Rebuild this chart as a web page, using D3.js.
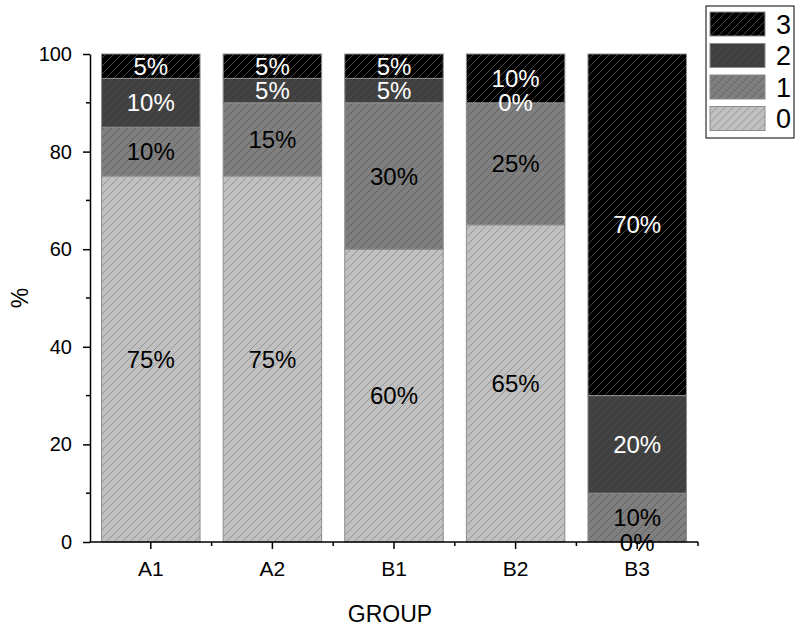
<!DOCTYPE html>
<html>
<head>
<meta charset="utf-8">
<script src="https://cdn.jsdelivr.net/npm/d3@7"></script>
<style>
  body { margin: 0; background: #fff; }
  svg { font-family: "Liberation Sans", Arial, sans-serif; }
</style>
</head>
<body>
<div id="chart"></div>
<script>
// data (percent per group)
const groups = ['A1', 'A2', 'B1', 'B2', 'B3'];
const levels = ['0', '1', '2', '3'];
const level0 = [75, 75, 60, 65, 0];
const level1 = [10, 15, 30, 25, 10];
const level2 = [10, 5, 5, 0, 20];
const level3 = [5, 5, 5, 10, 70];
const yTicks = [0, 20, 40, 60, 80, 100];

const fills = {'0': '#c0c0c0', '1': '#7f7f7f', '2': '#404040', '3': '#000000'};
const hatch = {'0': '#8a8a8a', '1': '#5a5a5a', '2': '#4c4c4c', '3': '#555555'};
const textCol = {'0': '#000', '1': '#000', '2': '#fff', '3': '#fff'};

const rows = groups.map((g, i) => ({
    group: g, '0': level0[i], '1': level1[i], '2': level2[i], '3': level3[i]
}));

const width = 798, height = 635;
const margin = {top: 54, right: 100, bottom: 93, left: 90};
const font = '"Liberation Sans", Arial, sans-serif';

const svg = d3.select('#chart').append('svg')
    .attr('width', width)
    .attr('height', height);

// hatch patterns
const defs = svg.append('defs');
levels.forEach(k => {
    const p = defs.append('pattern')
        .attr('id', 'hatch' + k)
        .attr('patternUnits', 'userSpaceOnUse')
        .attr('width', 8).attr('height', 8);
    p.append('rect').attr('width', 8).attr('height', 8).attr('fill', fills[k]);
    p.append('path')
        .attr('d', 'M-2,2 L2,-2 M0,8 L8,0 M6,10 L10,6')
        .attr('stroke', hatch[k])
        .attr('stroke-width', 0.8);
});

const x = d3.scaleBand()
    .domain(groups)
    .range([margin.left, 698])
    .paddingInner(0.19)
    .paddingOuter(0.095);

const y = d3.scaleLinear()
    .domain([0, 100])
    .range([height - margin.bottom, margin.top]);

const stack = d3.stack().keys(levels);
const series = stack(rows);
series.forEach(s => s.forEach(v => { v.key = s.key; }));

// bars
svg.append('g').selectAll('g')
    .data(series)
    .join('g')
    .selectAll('rect')
    .data(d => d)
    .join('rect')
    .attr('x', d => x(d.data.group))
    .attr('width', x.bandwidth())
    .attr('y', d => y(d[1]))
    .attr('height', d => y(d[0]) - y(d[1]))
    .attr('fill', d => 'url(#hatch' + d.key + ')')
    .attr('stroke', '#8c8c8c')
    .attr('stroke-width', 1);

// value labels (drawn after all bars so none get covered)
svg.append('g').selectAll('text')
    .data(series.flat())
    .join('text')
    .attr('x', d => x(d.data.group) + x.bandwidth() / 2)
    .attr('y', d => y((d[0] + d[1]) / 2))
    .attr('dy', '0.36em')
    .attr('text-anchor', 'middle')
    .attr('font-size', 24)
    .attr('fill', d => textCol[d.key])
    .text(d => (d[1] - d[0]) + '%');

// axes
const xAxisG = svg.append('g')
    .attr('transform', `translate(0,${y(0)})`);
xAxisG.append('line')
    .attr('x1', margin.left).attr('x2', 698)
    .attr('stroke', '#000').attr('stroke-width', 1.5);
xAxisG.call(d3.axisBottom(x).tickSize(7).tickSizeOuter(0))
    .call(g => g.select('.domain').remove())
    .call(g => g.selectAll('.tick line').attr('stroke-width', 1.5))
    .call(g => g.selectAll('.tick text').attr('font-size', 21).attr('dy', '1.15em')
        .attr('font-family', font));
// minor ticks between groups
const bounds = groups.slice(1).map(g => x(g) - x.step() * x.paddingInner() / 2).concat([698]);
xAxisG.selectAll('.minor')
    .data(bounds)
    .join('line')
    .attr('class', 'minor')
    .attr('x1', d => d).attr('x2', d => d)
    .attr('y1', 0).attr('y2', 4)
    .attr('stroke', '#000').attr('stroke-width', 1.5);

const yAxisG = svg.append('g')
    .attr('transform', `translate(${margin.left},0)`)
    .call(d3.axisLeft(y).tickValues(yTicks).tickSize(7).tickSizeOuter(0))
    .call(g => g.select('.domain').attr('stroke-width', 1.5))
    .call(g => g.selectAll('.tick line').attr('stroke-width', 1.5))
    .call(g => g.selectAll('.tick text').attr('font-size', 20).attr('dx', '-0.4em')
        .attr('font-family', font));
// minor y ticks
yAxisG.selectAll('.minor')
    .data(yTicks.slice(1).map(v => v - 10))
    .join('line')
    .attr('class', 'minor')
    .attr('x1', -4).attr('x2', 0)
    .attr('y1', d => y(d)).attr('y2', d => y(d))
    .attr('stroke', '#000').attr('stroke-width', 1.5);

// axis titles
svg.append('text')
    .attr('x', 390).attr('y', 622)
    .attr('text-anchor', 'middle')
    .attr('font-size', 23)
    .text('GROUP');

svg.append('text')
    .attr('transform', `translate(28,${(y(0) + y(100)) / 2}) rotate(-90)`)
    .attr('text-anchor', 'middle')
    .attr('font-size', 23)
    .text('%');

// legend
const legend = svg.append('g').attr('transform', 'translate(706,6)');
legend.append('rect')
    .attr('width', 88).attr('height', 132)
    .attr('fill', '#fff').attr('stroke', '#000').attr('stroke-width', 1);
const legItems = legend.selectAll('g.item')
    .data(levels.slice().reverse())
    .join('g')
    .attr('class', 'item')
    .attr('transform', (d, i) => `translate(4,${6 + i * 31.5})`);
legItems.append('rect')
    .attr('width', 55).attr('height', 24)
    .attr('fill', d => 'url(#hatch' + d + ')')
    .attr('stroke', '#8c8c8c');
legItems.append('text')
    .attr('x', 66).attr('y', 12)
    .attr('dy', '0.36em')
    .attr('font-size', 27)
    .text(d => d);
</script>
</body>
</html>
